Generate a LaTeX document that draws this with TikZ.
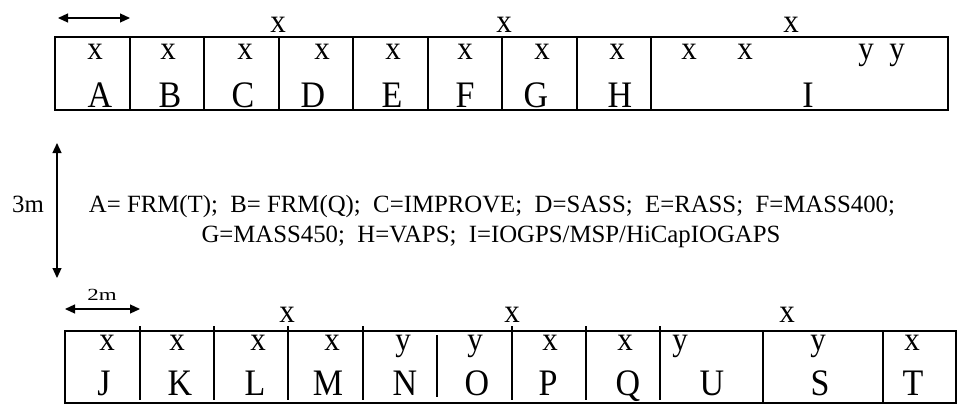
\documentclass[tikz,border=0pt]{standalone}
\usepackage{fontspec}
\setmainfont{Liberation Serif}
\usetikzlibrary{arrows.meta}
\newcommand{\tallx}[1]{\scalebox{1}[1.08]{#1}}
\newcommand{\tallL}[1]{\scalebox{1}[1.1]{#1}}
\begin{document}
\begin{tikzpicture}[x=1pt,y=-1pt,
  boxline/.style={line width=1.1pt},
  dimarrow/.style={line width=1.2pt,{Triangle[length=10pt,width=9pt]}-{Triangle[length=10pt,width=9pt]}},
  smallx/.style={anchor=base,inner sep=0pt,font=\fontsize{31}{34}\selectfont},
  biglet/.style={anchor=base,inner sep=0pt,font=\fontsize{34}{38}\selectfont},
  legend/.style={anchor=base,inner sep=0pt,font=\fontsize{24.8}{28}\selectfont}]
\useasboundingbox[fill=white] (0,0) rectangle (959,405);
% ---------- top row ----------
\draw[boxline] (55,37) rectangle (948,110);
\foreach \d in {130,204,279,353,428,502,577,651}
  \draw[boxline] (\d,37) -- (\d,110);
\coordinate (ta1) at (58,18);
\coordinate (ta2) at (130,18);
\draw[dimarrow] (ta1) -- (ta2);
\node[smallx] (tx1) at (278,32) {\tallx{x}};
\node[smallx] (tx2) at (504,32) {\tallx{x}};
\node[smallx] (tx3) at (791,32) {\tallx{x}};
\foreach \n/\px/\t in {a/95/x,b/168/x,c/245/x,d/322/x,e/393/x,f/465/x,g/542/x,h/617/x,i1/689/x,i2/745/x,i3/866/y,i4/897/y}
  \node[smallx] (s\n) at (\px,59) {\tallx{\t}};
\foreach \n/\px in {A/100,B/170,C/243,D/313,E/392,F/465,G/536,H/620,I/808}
  \node[biglet] (L\n) at (\px,107) {\tallL{\n}};
% ---------- middle ----------
\coordinate (va1) at (57,143);
\coordinate (va2) at (57,278);
\draw[dimarrow] (va1) -- (va2);
\node[legend] (three) at (28,212) {3m};
\node[legend] (leg1) at (492,212) {\frenchspacing A= FRM(T);\ \ B= FRM(Q);\ \ C=IMPROVE;\ \ D=SASS;\ \ E=RASS;\ \ F=MASS400;};
\node[legend] (leg2) at (491,242) {\frenchspacing G=MASS450;\ \ H=VAPS;\ \ I=IOGPS/MSP/HiCapIOGAPS};
% ---------- bottom row ----------
\draw[boxline] (65,331) rectangle (956,403);
\foreach \d in {140,214,288,363,512,586,660}
  \draw[boxline] (\d,326) -- (\d,400);
\draw[boxline] (437,335) -- (437,397);
\draw[boxline] (763,331) -- (763,403);
\draw[boxline] (883,331) -- (883,403);
\coordinate (ba1) at (65,309);
\coordinate (ba2) at (140,309);
\draw[dimarrow] (ba1) -- (ba2);
\node[anchor=base,inner sep=0pt,font=\fontsize{17}{19}\selectfont] (two) at (102,300) {\scalebox{1.35}[1]{2m}};
\node[smallx] (bx1) at (287,322) {\tallx{x}};
\node[smallx] (bx2) at (512,322) {\tallx{x}};
\node[smallx] (bx3) at (787,322) {\tallx{x}};
\foreach \n/\px/\t in {j/107/x,k/177/x,l/258/x,m/332/x,n/403/y,o/475/y,p/550/x,q/625/x,u/680/y,s/818/y,t/912/x}
  \node[smallx] (b\n) at (\px,350) {\tallx{\t}};
\foreach \n/\px in {J/104,K/180,L/255,M/328,N/405,O/477,P/548,Q/628,U/712,S/820,T/913}
  \node[biglet] (M\n) at (\px,395) {\tallL{\n}};
\end{tikzpicture}
\end{document}
